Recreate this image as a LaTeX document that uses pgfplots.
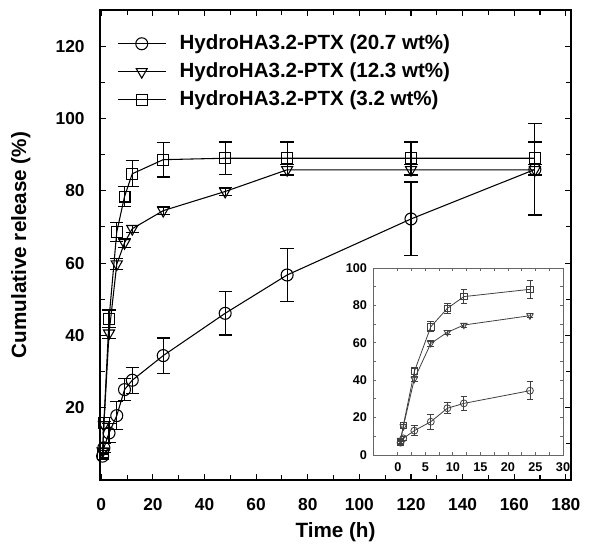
\documentclass[border=0pt]{standalone}
\usepackage{fontspec}
\setmainfont{Liberation Sans}
\usepackage{pgfplots}
\usepackage{pgfplotstable}
\pgfplotsset{compat=1.18}

% columns: time (h), cumulative release (%), error
\pgfplotstableread{
t y e
0.5 6.6 1.0
1 8.9 1.2
3 13.0 2.6
6 17.8 3.9
9 25.0 3.0
12 27.6 3.6
24 34.4 4.9
48 46.1 6.0
72 56.7 7.4
120 72.2 10.2
168 85.9 12.6
}\tabA
\pgfplotstableread{
t y e
0.5 8.0 0.8
1 15.2 1.0
3 40.6 1.5
6 59.7 1.5
9 65.6 1.2
12 69.5 1.0
24 74.5 1.0
48 79.8 1.2
72 85.8 1.5
120 85.8 1.5
168 85.8 1.5
}\tabB
\pgfplotstableread{
t y e
0.5 7.1 1.0
1 15.7 1.5
3 44.6 2.4
6 68.6 2.7
9 78.4 2.7
12 84.7 3.6
24 88.6 4.8
48 89.0 4.5
72 89.0 4.5
120 89.0 4.5
168 89.0 4.5
}\tabC

\pgfplotsset{
  bigerr/.style={black,line width=0.8pt,mark options={solid,line width=0.8pt},
    error bars/y dir=both,error bars/y explicit,
    error bars/error bar style={line width=0.9pt},
    error bars/error mark options={rotate=90,mark size=5pt,line width=0.9pt}},
  smallerr/.style={black!75,line width=0.6pt,mark options={solid,line width=0.6pt},
    restrict x to domain=0:30,
    error bars/y dir=both,error bars/y explicit,
    error bars/error bar style={line width=0.6pt},
    error bars/error mark options={rotate=90,mark size=2.5pt,line width=0.6pt}},
}

\begin{document}
\begin{tikzpicture}
\useasboundingbox (-75pt,-51.75pt) rectangle (372pt,360pt);
\begin{axis}[at={(0pt,0pt)},anchor=south west,scale only axis,
  width=353.25pt,height=352.5pt,
  xmin=-0.5,xmax=182,ymin=0,ymax=130,
  xtick={0,20,...,180},minor xtick={10,30,...,170},
  ytick={20,40,...,120},minor ytick={10,30,...,130},
  tick align=inside,major tick length=4.5pt,minor tick length=4pt,
  every tick/.style={black,line width=0.8pt},
  axis line style={line width=2pt},
  /pgf/number format/assume math mode=true,
  tick label style={font=\bfseries\fontsize{13}{13}\selectfont},
  xticklabel style={yshift=-10pt},
  yticklabel style={xshift=-8pt},
  xlabel={Time (h)},ylabel={Cumulative release (\%)},
  label style={font=\bfseries\fontsize{15.5}{18}\selectfont},
  xlabel style={at={(axis description cs:0.5,-0.11)},anchor=center},
  ylabel style={at={(axis description cs:-0.168,0.5)},anchor=center},
  legend style={at={(axis description cs:0.036,0.95)},anchor=north west,
    draw=none,fill=none,inner sep=0pt,row sep=6pt,column sep=10pt,
    font=\bfseries\fontsize{15.4}{18}\selectfont,
    nodes={inner sep=0pt,text height=11.5pt,text depth=3.5pt}},
  legend cell align=left,
  legend image code/.code={\draw[mark repeat=2,mark phase=2,#1]
    plot coordinates {(0pt,0pt) (18pt,0pt) (36pt,0pt)};},
]
\addplot[bigerr,mark=o,mark size=4.5pt] table[x=t,y=y,y error=e]{\tabA};
\addlegendentry{HydroHA3.2-PTX (20.7 wt\%)}
\addplot[bigerr,mark=triangle,mark size=4.8pt,mark options={rotate=180}] table[x=t,y=y,y error=e]{\tabB};
\addlegendentry{HydroHA3.2-PTX (12.3 wt\%)}
\addplot[bigerr,mark=square,mark size=4.1pt] table[x=t,y=y,y error=e]{\tabC};
\addlegendentry{HydroHA3.2-PTX (3.2 wt\%)}
\end{axis}

% inset: first 24 h
\begin{axis}[at={(204.75pt,18.75pt)},anchor=south west,scale only axis,
  width=142.5pt,height=140.25pt,
  xmin=-4.5,xmax=30,ymin=0,ymax=100,
  xtick={0,5,...,30},minor xtick={2.5,7.5,...,27.5},
  ytick={0,20,...,100},minor ytick={10,30,...,90},
  tick align=inside,major tick length=2.5pt,minor tick length=2.5pt,
  every tick/.style={black!60,line width=0.6pt},
  axis line style={black!60,line width=0.6pt},
  axis background/.style={fill=white},
  /pgf/number format/assume math mode=true,
  tick label style={font=\bfseries\fontsize{9.5}{9.5}\selectfont},
  xticklabel style={yshift=-2pt},
  yticklabel style={xshift=-1pt},
]
\addplot[smallerr,mark=o,mark size=2.6pt] table[x=t,y=y,y error=e]{\tabA};
\addplot[smallerr,mark=triangle,mark size=2.8pt,mark options={rotate=180}] table[x=t,y=y,y error=e]{\tabB};
\addplot[smallerr,mark=square,mark size=2.4pt] table[x=t,y=y,y error=e]{\tabC};
\end{axis}
\end{tikzpicture}
\end{document}
